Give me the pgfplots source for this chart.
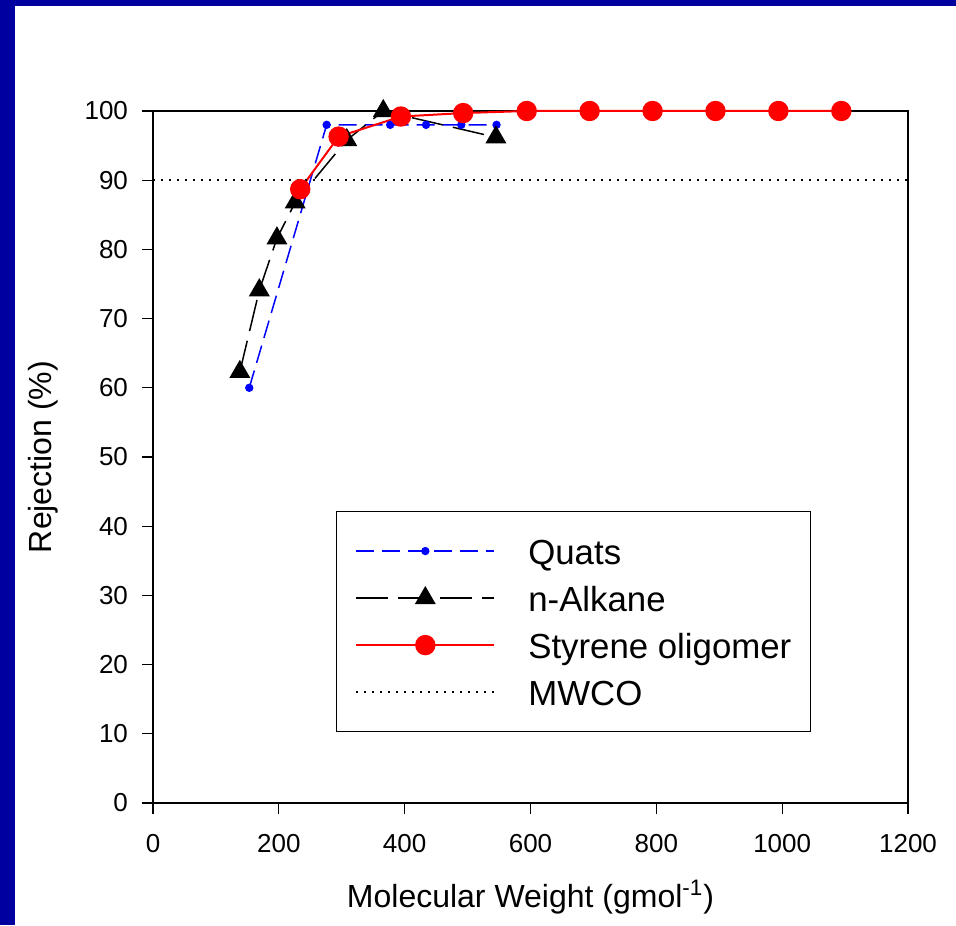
\documentclass[border=0pt]{standalone}
\usepackage{pgfplots}
\pgfplotsset{compat=1.18}
\usepackage{fontspec}
\setmainfont{Liberation Sans}
\definecolor{frameblue}{RGB}{0,0,160}
\definecolor{qblue}{RGB}{0,0,255}
\definecolor{sred}{RGB}{255,0,0}
\begin{document}
\begin{tikzpicture}[x=1pt,y=1pt]
\fill[frameblue] (-76.5,-61) rectangle (401.5,401.5);
\fill[white] (-69,-61) rectangle (401.5,398.5);
\useasboundingbox (-76.5,-61) rectangle (401.5,401.5);
\begin{axis}[
  at={(0,0)}, anchor=south west,
  scale only axis, width=377.5pt, height=346pt,
  xmin=0, xmax=1200, ymin=0, ymax=100,
  xtick={0,200,...,1200}, ytick={0,10,...,100},
  tick align=outside, tick pos=left,
  major tick length=5.5pt,
  axis line style={line width=0.6pt},
  every tick/.style={black, line width=0.6pt},
  scaled ticks=false,
  /pgf/number format/1000 sep={},
  /pgf/number format/assume math mode=true,
  tick label style={font=\fontsize{13}{15}\selectfont},
  xticklabel style={yshift=-6.5pt},
  yticklabel style={xshift=-3.5pt},
  xlabel={Molecular Weight (gmol\textsuperscript{-1})},
  ylabel={Rejection (\%)},
  label style={font=\fontsize{16}{19}\selectfont},
  xlabel style={at={(axis description cs:0.5,-0.136)}, anchor=center},
  ylabel style={at={(axis description cs:-0.145,0.5)}, anchor=center},
  clip=false,
  legend image code/.code={\draw[mark repeat=2,mark phase=2,#1] plot coordinates {(0pt,0pt) (34.5pt,0pt) (69pt,0pt)};},
  legend style={at={(axis description cs:0.242,0.422)}, anchor=north west,
    draw=black, line width=0.6pt, font=\fontsize{17.4}{20}\selectfont,
    inner xsep=9.5pt, inner ysep=11.5pt, row sep=7pt, column sep=0pt,
    nodes={inner xsep=0pt, inner ysep=0pt, text height=15pt, text depth=1.5pt}},
  legend cell align=left,
]
\addplot[qblue, line width=0.75pt, dash pattern=on 9pt off 4pt, mark=*, mark size=1.7pt, mark options={solid, fill=qblue}]
  coordinates {(153,60) (276,98) (377,98) (434,98) (490,98) (546,98)};
\addlegendentry{\hspace{16.5pt}Quats}
\addplot[black, line width=0.75pt, dash pattern=on 16pt off 5pt, mark=triangle*, mark size=5.3pt, mark options={solid, fill=black}]
  coordinates {(138,62.3) (169,74.1) (197,81.6) (226,86.8) (308,95.8) (366,100) (545,96.2)};
\addlegendentry{\hspace{16.5pt}n-Alkane}
\addplot[sred, line width=1pt, mark=*, mark size=4.6pt, mark options={solid, fill=sred}]
  coordinates {(234,88.7) (295,96.3) (394,99.2) (493,99.7) (594,100) (694,100) (794,100) (894,100) (994,100) (1094,100)};
\addlegendentry{\hspace{16.5pt}Styrene oligomer}
\addplot[black, line width=0.75pt, dash pattern=on 0.8pt off 3.2pt]
  coordinates {(0,90) (1200,90)};
\addlegendentry{\hspace{16.5pt}MWCO}
\end{axis}
\end{tikzpicture}
\end{document}
